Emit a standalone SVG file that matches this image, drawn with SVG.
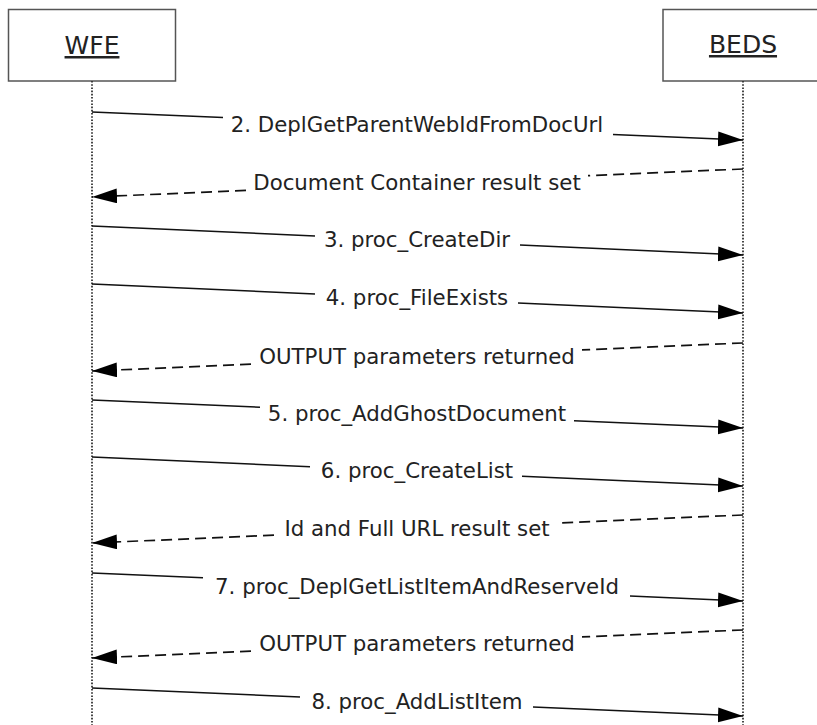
<svg xmlns="http://www.w3.org/2000/svg" width="817" height="725" viewBox="0 0 817 725">
<style>
.box{fill:#fff;stroke:#555;stroke-width:1.5}
.title{font-family:"DejaVu Sans",Verdana,sans-serif;font-size:25px;fill:#222;text-anchor:middle;text-decoration:underline}
.life{stroke:#333;stroke-width:1.8;stroke-dasharray:1.6 1.6;fill:none}
.msg{stroke:#111;stroke-width:1.5;fill:none;marker-end:url(#arr)}
.ret{stroke:#111;stroke-width:1.7;fill:none;stroke-dasharray:11 6;marker-end:url(#arr)}
.lbl{font-family:"DejaVu Sans",Verdana,sans-serif;font-size:21.3px;fill:#222;text-anchor:middle}
</style>
<defs>
<marker id="arr" markerUnits="userSpaceOnUse" markerWidth="26" markerHeight="16" refX="25" refY="7.5" orient="auto" viewBox="0 0 26 16">
<path d="M0,0 L25,7.5 L0,15 Z" fill="#000"/>
</marker>
</defs>
<rect width="817" height="725" fill="#fff"/>
<g id="WFE">
<rect class="box" x="8.5" y="9.5" width="167" height="71.5"/>
<text class="title" x="92" y="54">WFE</text>
<line class="life" x1="92" y1="81" x2="92" y2="725"/>
</g>
<g id="BEDS">
<rect class="box" x="663" y="9.5" width="170" height="71.5"/>
<text class="title" x="743" y="53">BEDS</text>
<line class="life" x1="743" y1="81" x2="743" y2="725"/>
</g>
<g id="connectors">
<path class="msg" d="M92,112 L223,117.6 M613,134.4 L743,140"/>
<path class="ret" d="M743,169 L588,175.7 M246,190.4 L92,197"/>
<path class="msg" d="M92,226 L315,235.9 M520,245.1 L743,255"/>
<path class="msg" d="M92,284 L315,293.9 M518,303 L743,313"/>
<path class="ret" d="M743,343 L582,349.9 M251,364.2 L92,371"/>
<path class="msg" d="M92,400 L260,407.2 M574,420.7 L743,428"/>
<path class="msg" d="M92,457 L310,466.7 M522,476.2 L743,486"/>
<path class="ret" d="M743,515 L560,522.9 M274,535.2 L92,543"/>
<path class="msg" d="M92,573 L203,577.8 M630,596.1 L743,601"/>
<path class="ret" d="M743,630 L582,636.9 M251,651.2 L92,658"/>
<path class="msg" d="M92,688 L300,697 M533,707 L743,716"/>
</g>
<g id="labels">
<text class="lbl" x="417" y="131.5">2. DeplGetParentWebIdFromDocUrl</text>
<text class="lbl" x="417" y="189.5">Document Container result set</text>
<text class="lbl" x="417" y="247">3. proc_CreateDir</text>
<text class="lbl" x="417" y="305">4. proc_FileExists</text>
<text class="lbl" x="417" y="363.5">OUTPUT parameters returned</text>
<text class="lbl" x="417" y="420.5">5. proc_AddGhostDocument</text>
<text class="lbl" x="417" y="477.5">6. proc_CreateList</text>
<text class="lbl" x="417" y="535.5">Id and Full URL result set</text>
<text class="lbl" x="417" y="593.5">7. proc_DeplGetListItemAndReserveId</text>
<text class="lbl" x="417" y="651">OUTPUT parameters returned</text>
<text class="lbl" x="417" y="708.5">8. proc_AddListItem</text>
</g>
</svg>
